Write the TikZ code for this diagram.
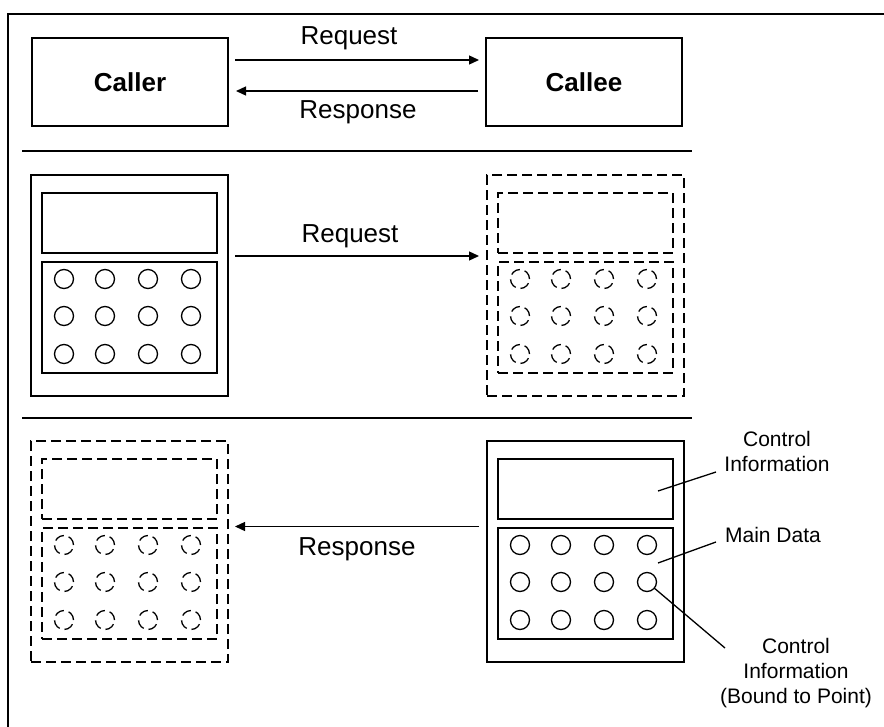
\documentclass[tikz,border=0pt]{standalone}
\usepackage{fontspec}
\setmainfont{Liberation Sans}
\usetikzlibrary{arrows.meta}
\newcommand{\bigtxt}{\fontsize{26}{31}\selectfont}
\newcommand{\smalltxt}{\fontsize{21}{25}\selectfont}
\tikzset{
  devbox/.style={draw, line width=1.6pt, inner sep=0pt, outer sep=0pt},
  dot/.style={draw, circle, line width=1.3pt, minimum size=19pt, inner sep=0pt, outer sep=0pt},
  ghost/.style={devbox/.append style={dash pattern=on 10pt off 5pt},
                dot/.append style={dash pattern=on 10pt off 5pt}},
  arr/.style={line width=1.3pt, -{Triangle[length=10pt,width=9pt]}},
  sep/.style={line width=2.2pt},
  leader/.style={line width=1.3pt},
  biglabel/.style={inner sep=0pt, align=center, font=\bigtxt},
  smalllabel/.style={inner sep=0pt, align=center, font=\smalltxt},
  device/.pic={
    \node[devbox, minimum width=197pt, minimum height=221pt] (-outer) at (98.5,110.5) {};
    \node[devbox, minimum width=175pt, minimum height=60pt] (-ctrl) at (98.5,48) {};
    \node[devbox, minimum width=175pt, minimum height=111pt] (-data) at (98.5,142.5) {};
    \foreach \c [count=\i] in {22,63,106,149}
      \foreach \r [count=\j] in {17,54,92}
        \node[dot] (-d\j\i) at (11+\c,87+\r) {};
  }
}
\begin{document}
\begin{tikzpicture}[x=1pt,y=-1pt]
\useasboundingbox (0,0) rectangle (884,726);
\fill[white] (0,0) rectangle (884,726);
% frame
\coordinate (fa) at (8,730);
\coordinate (fb) at (8,14);
\coordinate (fc) at (888,14);
\draw[line width=2.4pt] (fa) -- (fb) -- (fc);

% top row
\node[devbox, minimum width=196pt, minimum height=88pt, font=\bigtxt\bfseries] (caller) at (130,82) {Caller};
\node[devbox, minimum width=196pt, minimum height=88pt, font=\bigtxt\bfseries] (callee) at (584,82) {Callee};
\draw[arr, shorten <=7pt, shorten >=7pt] ([yshift=22pt]caller.east) -- ([yshift=22pt]callee.west);
\draw[arr, shorten <=8pt, shorten >=8pt] ([yshift=-9pt]callee.west) -- ([yshift=-9pt]caller.east);
\node[biglabel] (req1) at (349,38) {Request};
\node[biglabel] (resp1) at (358,112) {Response};

% separators
\coordinate (s1a) at (22,151);
\coordinate (s1b) at (692,151);
\draw[sep] (s1a) -- (s1b);
\coordinate (s2a) at (22,418);
\coordinate (s2b) at (692,418);
\draw[sep] (s2a) -- (s2b);

% middle row
\pic (lm) at (31,175) {device};
\pic[ghost] (rm) at (487,175) {device};
\draw[arr, shorten <=7pt, shorten >=8pt] ([yshift=29.5pt]lm-outer.east) -- ([yshift=29.5pt]rm-outer.west);
\node[biglabel] (req2) at (350,236) {Request};

% bottom row
\pic[ghost] (bl) at (31,441) {device};
\pic (br) at (487,441) {device};
\draw[arr, shorten <=8pt, shorten >=7pt] ([yshift=25pt]br-outer.west) -- ([yshift=25pt]bl-outer.east);
\node[biglabel] (resp2) at (357,549) {Response};

% annotations
\node[smalllabel] (ci) at (777,451) {Control\\Information};
\node[smalllabel] (md) at (773,535) {Main Data};
\node[smalllabel] (cb) at (796,673) {Control\\Information\\(Bound to Point)};
\coordinate (l1a) at (658,491);
\coordinate (l1b) at (716,472);
\draw[leader] (l1a) -- (l1b);
\coordinate (l2a) at (658,563);
\coordinate (l2b) at (716,542);
\draw[leader] (l2a) -- (l2b);
\coordinate (l3b) at (725,648);
\draw[leader] (br-d24.-40) -- (l3b);
\end{tikzpicture}
\end{document}
